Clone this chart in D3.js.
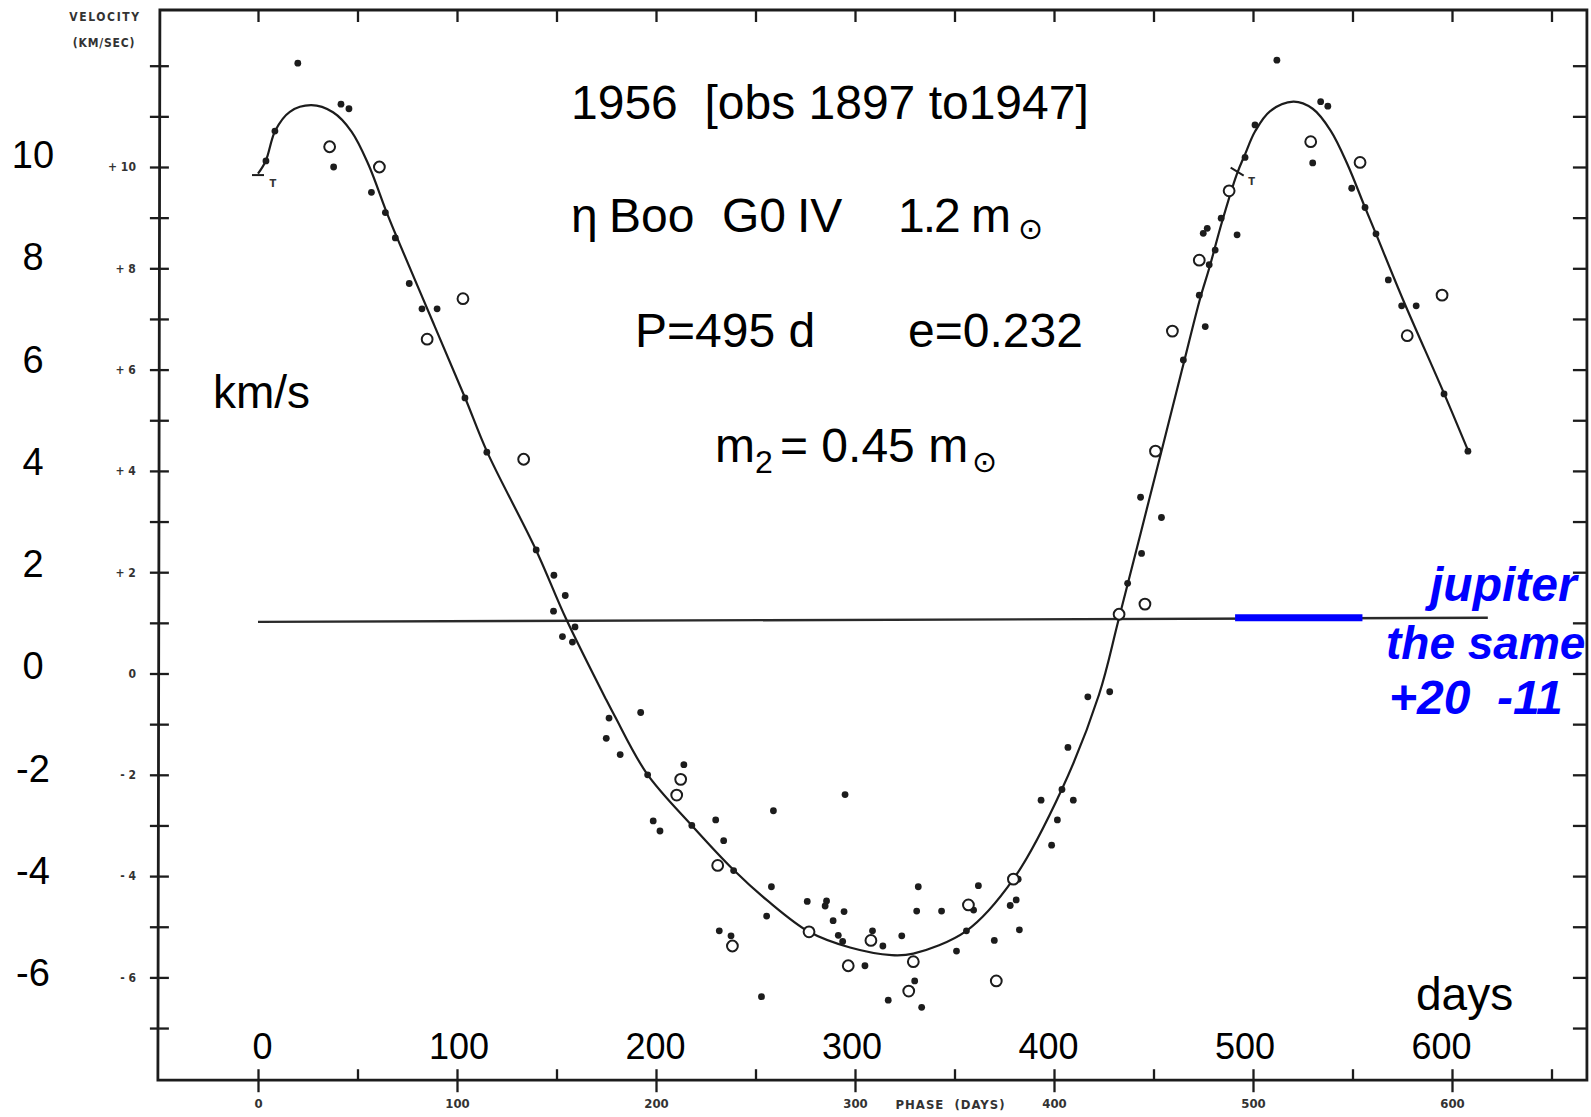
<!DOCTYPE html>
<html>
<head>
<meta charset="utf-8">
<script src="https://cdn.jsdelivr.net/npm/d3@7"></script>
<style>
  body { margin: 0; background: #fff; }
  figure { margin: 0; }
  svg { display: block; }
</style>
</head>
<body>
<figure id="rv"></figure>
<script>
// fitted orbit curve (phase in days, velocity in km/s)
const curveDays = [0, 3.9, 8.7, 16, 26.8, 37.7, 47, 55.5, 64.3, 69.7, 88.1, 104, 115.2, 139.7, 154.8, 175, 179.4,
  195.3, 218, 239.3, 255.6, 276.9, 297.5, 318.4, 329.3, 356, 379.6, 403.9, 422.6, 432.7, 454, 465, 473.4, 478,
  484.3, 491.8, 496, 501, 508.5, 520.3, 530, 539, 547.5, 556.3, 561.8, 575.5, 596.1, 608.2];
const curveVel = [9.87, 10.12, 10.72, 11.09, 11.22, 11.08, 10.7, 10.05, 9.14, 8.62, 6.92, 5.45, 4.37, 2.44, 1.08, -0.52, -0.85,
  -1.97, -3.0, -3.89, -4.47, -5.1, -5.41, -5.56, -5.53, -5.08, -4.06, -2.29, -0.42, 1.10, 4.39, 6.1, 7.4, 8.0,
  8.9, 9.85, 10.25, 10.7, 11.1, 11.29, 11.15, 10.72, 10.05, 9.2, 8.68, 7.37, 5.52, 4.39];

// filled dots
const dotDays = [20, 4, 8.5, 41.7, 45.7, 38, 57, 64, 69, 76, 82.4, 90, 104, 115, 139.8, 148.7, 154.4, 148.5, 159.3, 153, 158,
  176.4, 192.3, 175, 182, 195.8, 214, 198.6, 202, 218, 230, 234, 239, 259, 295, 258, 231.8, 237.7, 255.6, 276,
  285.7, 285, 294.5, 289, 291.6, 293.8, 305, 308.8, 314, 323.5, 331.8, 331, 343.5, 330, 362, 351, 356, 359.6,
  378, 381, 382.6, 370, 393.5, 253, 316.7, 333.5, 382, 417, 428, 407, 404, 409.7, 401.7, 398.8,
  437, 443.5, 444, 454, 465, 476, 473, 478, 481, 492, 484, 475, 477, 496, 501, 512,
  534, 537.6, 530, 549.6, 556.3, 561.8, 568, 574.7, 582, 596, 608];
const dotVel = [12.05, 10.12, 10.71, 11.24, 11.15, 10.0, 9.5, 9.1, 8.6, 7.7, 7.2, 7.2, 5.44, 4.37, 2.44, 1.94, 1.54, 1.23, 0.92, 0.73, 0.62,
  -0.88, -0.77, -1.28, -1.6, -2.0, -1.8, -2.91, -3.11, -3.0, -2.89, -3.3, -3.89, -2.71, -2.39, -4.21, -5.08, -5.18, -4.79, -4.5,
  -4.49, -4.59, -4.7, -4.88, -5.17, -5.29, -5.77, -5.08, -5.38, -5.18, -4.21, -4.69, -4.69, -6.07, -4.19, -5.48, -5.08, -4.67,
  -4.58, -4.47, -5.06, -5.27, -2.5, -6.38, -6.45, -6.59, -4.06, -0.46, -0.36, -1.46, -2.29, -2.5, -2.89, -3.39,
  1.78, 3.48, 2.37, 3.08, 6.19, 6.85, 7.47, 8.07, 8.36, 8.66, 8.99, 8.69, 8.79, 10.19, 10.83, 12.11,
  11.29, 11.2, 10.08, 9.58, 9.2, 8.68, 7.77, 7.26, 7.26, 5.52, 4.39];

// open circles
const ringDays = [36, 61, 103, 85, 133.5, 212.4, 210.4, 231, 238.4, 276.9, 296.6, 308, 329.3, 327, 357, 379.6, 371,
  432.7, 445.7, 451, 459.5, 473, 488, 529, 553.8, 595, 577.5];
const ringVel = [10.4, 10.0, 7.4, 6.6, 4.23, -2.09, -2.4, -3.79, -5.38, -5.1, -5.77, -5.27, -5.69, -6.27, -4.57, -4.06, -6.07,
  1.17, 1.37, 4.39, 6.76, 8.16, 9.53, 10.5, 10.09, 7.47, 6.67];

// periastron marks "T"
const markDays = [0, 491.8];
const markVel = [9.87, 9.91];

// systemic velocity line (ends), and the jupiter comparison bar
const gammaDays = [0, 618];
const gammaVel = [1.02, 1.10];
const jupiterDays = [491, 555];
const jupiterVel = 1.1;

const velTicks = [10, 8, 6, 4, 2, 0, -2, -4, -6];
const dayTicks = [0, 100, 200, 300, 400, 500, 600];
const halfTicks = d3.range(0, 651, 50);
const unitTicks = d3.range(-7, 13);

const width = 1591, height = 1117;
const ink = "#1c1c1c";
const scanFont = "'DejaVu Sans Condensed', 'DejaVu Sans', sans-serif";
const sans = "'Liberation Sans', Arial, sans-serif";

// scale of the scanned plot
const x = d3.scaleLinear().domain([0, 600]).range([258, 1452]);
const y = d3.scaleLinear().domain([10, -6]).range([167, 977.4]);
// the big overlaid labels sit slightly off the scanned axes
const xo = d3.scaleLinear().domain([0, 600]).range([262, 1441]);
const yo = d3.scaleLinear().domain([10, -6]).range([154, 972]);

const frameL = x(-49.3), frameR = x(667.8), frameT = y(13.1), frameB = y(-8.03);

const svg = d3.select("#rv").append("svg")
  .attr("width", width)
  .attr("height", height)
  .style("font-family", sans);

svg.append("rect").attr("width", width).attr("height", height).attr("fill", "#fff");

// frame
svg.append("path")
  .attr("d", `M${frameL},${frameT}H${frameR}V${frameB}H${frameL - 2}Z`)
  .attr("fill", "none")
  .attr("stroke", ink)
  .attr("stroke-width", 2.8);

function tickStyle(g) {
  g.select(".domain").remove();
  g.selectAll(".tick line").attr("stroke", ink).attr("stroke-width", 2.3);
}

svg.append("g").attr("transform", `translate(${frameL},0)`)
  .call(d3.axisLeft(y).tickValues(unitTicks).tickSize(10).tickFormat(""))
  .call(tickStyle);
svg.append("g").attr("transform", `translate(${frameL},0)`)
  .call(d3.axisRight(y).tickValues(unitTicks).tickSize(9).tickFormat(""))
  .call(tickStyle);
svg.append("g").attr("transform", `translate(${frameR},0)`)
  .call(d3.axisLeft(y).tickValues(unitTicks).tickSize(14).tickFormat(""))
  .call(tickStyle);
svg.append("g").attr("transform", `translate(0,${frameT})`)
  .call(d3.axisBottom(x).tickValues(halfTicks).tickSize(12).tickFormat(""))
  .call(tickStyle);
svg.append("g").attr("transform", `translate(0,${frameB})`)
  .call(d3.axisBottom(x).tickValues(dayTicks).tickSize(12).tickFormat(""))
  .call(tickStyle);
svg.append("g").attr("transform", `translate(0,${frameB})`)
  .call(d3.axisTop(x).tickValues(halfTicks).tickSize(11).tickFormat(""))
  .call(tickStyle);

// small labels of the scanned figure
function scanText(g, size) {
  g.select(".domain").remove();
  g.selectAll("text")
    .attr("font-family", scanFont)
    .attr("font-size", size)
    .attr("font-weight", "bold")
    .attr("fill", "#333");
}

svg.append("g").attr("transform", `translate(${frameL - 24},0)`)
  .call(d3.axisLeft(y).tickValues(velTicks).tickSize(0).tickPadding(0)
    .tickFormat(v => v > 0 ? "+ " + v : v < 0 ? "- " + (-v) : "0"))
  .call(g => scanText(g, 12));

svg.append("g").attr("transform", `translate(0,${frameB})`)
  .call(d3.axisBottom(x).tickValues(dayTicks).tickSize(0).tickPadding(19))
  .call(g => scanText(g, 13));

svg.append("text").attr("x", x(350) - 4).attr("y", 1109)
  .attr("text-anchor", "middle")
  .attr("font-family", scanFont).attr("font-size", 13).attr("font-weight", "bold")
  .attr("fill", "#333").attr("letter-spacing", 1).style("white-space", "pre")
  .text("PHASE  (DAYS)");

svg.append("text").attr("x", 105).attr("y", 21)
  .attr("text-anchor", "middle").attr("font-family", scanFont).attr("font-size", 12)
  .attr("font-weight", "bold").attr("fill", "#333").attr("letter-spacing", 1.6)
  .text("VELOCITY");
svg.append("text").attr("x", 104).attr("y", 47)
  .attr("text-anchor", "middle").attr("font-family", scanFont).attr("font-size", 12)
  .attr("font-weight", "bold").attr("fill", "#333").attr("letter-spacing", 0.8)
  .text("(KM/SEC)");

// systemic velocity line
svg.append("line")
  .attr("x1", x(gammaDays[0])).attr("x2", x(gammaDays[1]))
  .attr("y1", y(gammaVel[0])).attr("y2", y(gammaVel[1]))
  .attr("stroke", "#2a2a2a").attr("stroke-width", 2.4);

// fitted curve
const line = d3.line()
  .x(d => x(d[0]))
  .y(d => y(d[1]))
  .curve(d3.curveCatmullRom.alpha(0.5));

svg.append("path")
  .datum(d3.zip(curveDays, curveVel))
  .attr("d", line)
  .attr("fill", "none")
  .attr("stroke", ink)
  .attr("stroke-width", 2.2);

// T marks
const marks = d3.zip(markDays, markVel);
svg.append("line")
  .attr("x1", x(marks[0][0]) - 6).attr("x2", x(marks[0][0]) + 6)
  .attr("y1", y(marks[0][1]) + 1.5).attr("y2", y(marks[0][1]) + 1.5)
  .attr("stroke", ink).attr("stroke-width", 2);
svg.append("line")
  .attr("x1", x(marks[1][0]) - 6).attr("x2", x(marks[1][0]) + 7)
  .attr("y1", y(marks[1][1]) - 4).attr("y2", y(marks[1][1]) + 4)
  .attr("stroke", ink).attr("stroke-width", 2);
svg.selectAll("text.tmark")
  .data(marks)
  .enter()
  .append("text")
  .attr("class", "tmark")
  .attr("x", d => x(d[0]) + 15)
  .attr("y", d => y(d[1]) + 13)
  .attr("text-anchor", "middle")
  .attr("font-family", scanFont).attr("font-size", 11).attr("font-weight", "bold")
  .attr("fill", "#333")
  .text("T");

// observations
svg.selectAll("circle.dot")
  .data(d3.zip(dotDays, dotVel))
  .enter()
  .append("circle")
  .attr("class", "dot")
  .attr("cx", d => x(d[0]))
  .attr("cy", d => y(d[1]))
  .attr("r", 3.4)
  .attr("fill", ink);

svg.selectAll("circle.ring")
  .data(d3.zip(ringDays, ringVel))
  .enter()
  .append("circle")
  .attr("class", "ring")
  .attr("cx", d => x(d[0]))
  .attr("cy", d => y(d[1]))
  .attr("r", 5.4)
  .attr("fill", "#fff")
  .attr("stroke", ink)
  .attr("stroke-width", 2);

// jupiter bar
svg.append("line")
  .attr("x1", x(jupiterDays[0])).attr("x2", x(jupiterDays[1]))
  .attr("y1", y(jupiterVel)).attr("y2", y(jupiterVel))
  .attr("stroke", "#0000ff").attr("stroke-width", 7);

// large overlaid axis labels
svg.append("g").attr("transform", "translate(33,0)")
  .call(d3.axisLeft(yo).tickValues(velTicks).tickSize(0).tickPadding(0).tickFormat(v => String(v)))
  .call(g => g.select(".domain").remove())
  .call(g => g.selectAll("text")
    .attr("text-anchor", "middle")
    .attr("dy", "0.36em")
    .attr("font-family", sans)
    .attr("font-size", 38)
    .attr("fill", "#000"));

svg.append("g").attr("transform", "translate(0,1033)")
  .call(d3.axisBottom(xo).tickValues(dayTicks).tickSize(0).tickPadding(0).tickFormat(v => String(v)))
  .call(g => g.select(".domain").remove())
  .call(g => g.selectAll("text")
    .attr("font-family", sans)
    .attr("font-size", 36)
    .attr("fill", "#000"));

svg.append("text").attr("x", 213).attr("y", 408)
  .attr("font-size", 46).attr("fill", "#000").text("km/s");
svg.append("text").attr("x", 1416).attr("y", 1010)
  .attr("font-size", 46).attr("fill", "#000").text("days");

// annotation block
const note = svg.append("g").attr("fill", "#000").attr("font-size", 48);

note.append("text").attr("x", 571).attr("y", 119)
  .style("white-space", "pre")
  .text("1956  [obs 1897 to1947]");

const l2 = note.append("text").attr("y", 232);
l2.append("tspan").attr("x", 571).text("η");
l2.append("tspan").attr("x", 609).text("Boo");
l2.append("tspan").attr("x", 722).text("G0");
l2.append("tspan").attr("x", 797).text("IV");
l2.append("tspan").attr("x", 898).attr("letter-spacing", -2).text("1.2");
l2.append("tspan").attr("x", 971).attr("letter-spacing", 0).text("m");
note.append("text").attr("x", 1018).attr("y", 239)
  .attr("font-family", "'DejaVu Sans', sans-serif").attr("font-size", 30).text("⊙");

note.append("text").attr("x", 635).attr("y", 347).text("P=495 d");
note.append("text").attr("x", 908).attr("y", 347).text("e=0.232");

const l4 = note.append("text").attr("y", 462);
l4.append("tspan").attr("x", 715).text("m");
l4.append("tspan").attr("x", 755).attr("y", 473).attr("font-size", 32).text("2");
l4.append("tspan").attr("x", 780).attr("y", 462).text("= 0.45 m");
note.append("text").attr("x", 972).attr("y", 472)
  .attr("font-family", "'DejaVu Sans', sans-serif").attr("font-size", 30).text("⊙");

// blue comment on the right
const blue = svg.append("g")
  .attr("fill", "#0000ff")
  .attr("font-size", 48)
  .attr("font-weight", "bold")
  .attr("font-style", "italic");
blue.append("text").attr("x", 1430).attr("y", 601).text("jupiter");
blue.append("text").attr("x", 1386).attr("y", 659).attr("font-size", 46).text("the same");
blue.append("text").attr("x", 1389).attr("y", 714).text("+20");
blue.append("text").attr("x", 1497).attr("y", 714).text("-11");
</script>
</body>
</html>
